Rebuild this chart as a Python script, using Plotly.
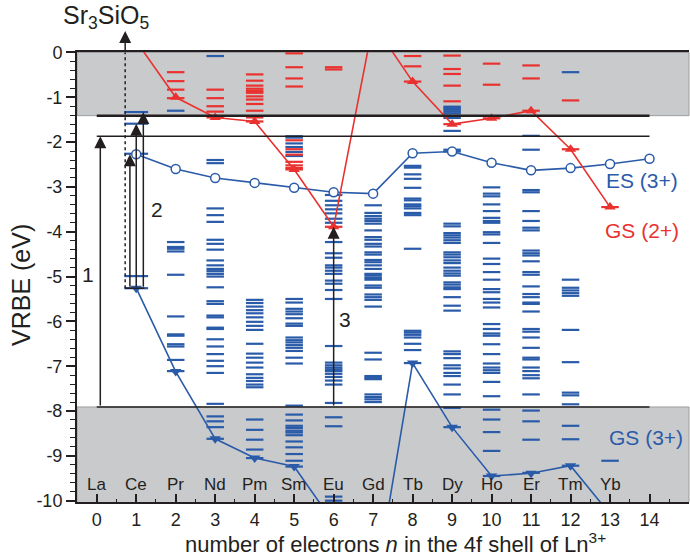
import plotly.graph_objects as go

BLUE = "#2a5ba9"
RED = "#e9322f"
GREY = "#c9cacc"
INK = "#231f20"
FONT = "Arial, Liberation Sans, Helvetica, sans-serif"

# ---------------- data ----------------
ln_n = list(range(14))
ln_names = ["La", "Ce", "Pr", "Nd", "Pm", "Sm", "Eu", "Gd", "Tb", "Dy", "Ho", "Er", "Tm", "Yb"]
x_ticks = list(range(15))
y_ticks = list(range(0, -11, -1))

# band edges / exciton (eV)
E_CB = -1.41
E_EX = -1.87
E_VB = -7.91

# zigzag curves
n_gs2 = list(range(1, 14))
gs2 = [0.25, -1.00, -1.45, -1.54, -2.61, -3.89, 0.65, -0.65, -1.60, -1.47, -1.30, -2.16, -3.45]
n_es3 = list(range(1, 15))
es3 = [-2.27, -2.60, -2.80, -2.91, -3.02, -3.12, -3.15, -2.25, -2.21, -2.46, -2.63, -2.58, -2.49, -2.37]
n_gs3 = list(range(1, 14))
gs3 = [-5.26, -7.12, -8.62, -9.05, -9.24, -10.49, -12.2, -6.93, -8.36, -9.45, -9.39, -9.22, -10.3]

# Ln3+ (blue) level energies
ce3 = [-1.33, -1.59, -2.26, -4.99, -5.26]
pr3 = [-1.30, -4.23, -4.34, -4.38, -4.44, -4.96, -5.89, -6.29, -6.32, -6.51, -6.56, -6.86, -7.11]
nd3 = [-0.08, -2.40, -2.47, -3.48, -3.63, -3.78, -4.18, -4.27, -4.40, -4.64, -4.75, -4.83, -4.88,
       -4.94, -5.00, -5.24, -5.55, -5.61, -5.87, -5.91, -6.14, -6.17, -6.40, -6.56, -6.73, -6.88,
       -7.00, -7.15, -7.84, -8.12, -8.23, -8.36, -8.62]
pm3 = [-5.52, -5.59, -5.67, -5.75, -5.82, -5.91, -6.01, -6.10, -6.19, -6.50, -6.72, -6.81, -6.92,
       -7.03, -7.18, -7.26, -7.33, -7.41, -7.47, -8.19, -8.42, -8.64, -8.86, -9.05]
sm3 = [-1.87, -1.90, -2.03, -2.11, -2.22, -2.31, -5.50, -5.58, -5.72, -5.78, -5.84, -5.93, -6.05,
       -6.10, -6.36, -6.42, -6.47, -6.53, -6.59, -6.66, -6.81, -6.94, -7.88, -8.08, -8.21, -8.33,
       -8.38, -8.44, -8.48, -8.54, -8.68, -8.81, -8.96, -9.11, -9.24]
eu3 = [-3.18, -3.31, -3.41, -3.50, -3.59, -3.71, -3.80, -4.23, -4.48, -4.58, -4.75, -4.80, -4.87,
       -4.94, -5.09, -5.16, -5.30, -5.50, -6.55, -6.92, -6.98, -7.03, -7.07, -7.11, -7.17, -7.24,
       -7.32, -7.41, -7.82, -8.14, -8.34, -9.91, -10.0]
gd3 = [-3.41, -3.58, -3.65, -3.71, -3.76, -3.82, -3.97, -4.12, -4.18, -4.27, -4.33, -4.46, -4.51,
       -4.63, -4.68, -4.75, -4.83, -4.94, -4.98, -5.03, -5.07, -5.20, -5.25, -5.40, -5.46, -5.52,
       -5.67, -6.70, -6.85, -7.22, -7.26, -7.29, -7.63, -7.69, -7.74, -7.80]
tb3 = [-2.53, -2.57, -2.72, -2.82, -3.02, -3.26, -3.30, -3.39, -3.43, -3.48, -3.58, -3.63, -4.38,
       -6.21, -6.25, -6.30, -6.36, -6.50, -6.64, -6.93]
dy3 = [-1.21, -1.24, -1.28, -1.32, -1.36, -1.46, -1.75, -2.17, -2.21, -3.82, -3.88, -4.03, -4.08,
       -4.13, -4.19, -4.25, -4.46, -4.51, -4.57, -4.64, -4.70, -4.80, -4.87, -4.93, -4.98, -5.13,
       -5.18, -5.24, -5.28, -5.46, -5.65, -5.76, -6.67, -6.73, -6.82, -6.98, -7.05, -7.15, -7.22,
       -7.41, -7.63, -7.93, -8.36]
ho3 = [-3.01, -3.15, -3.21, -3.39, -3.54, -3.69, -3.76, -3.80, -4.01, -4.06, -4.25, -4.60, -4.72,
       -4.90, -5.07, -5.28, -5.35, -5.50, -5.58, -5.69, -6.06, -6.17, -6.27, -6.32, -6.51, -6.73,
       -6.94, -7.03, -7.09, -7.15, -7.35, -7.67, -7.97, -8.19, -8.47, -8.89, -9.45]
er3 = [-1.86, -2.17, -3.07, -3.12, -3.54, -3.76, -3.91, -3.97, -4.42, -4.48, -4.53, -4.66, -4.90,
       -4.96, -5.22, -5.39, -5.46, -5.58, -5.61, -5.78, -6.17, -6.23, -6.36, -6.59, -6.81, -6.85,
       -7.03, -7.11, -7.20, -7.27, -7.63, -7.99, -8.23, -8.64, -9.38]
tm3 = [-0.44, -5.07, -5.25, -5.31, -5.37, -5.43, -6.19, -6.91, -7.59, -7.65, -7.85, -8.33, -8.63, -9.22]
yb3 = [-9.11]

# Ln2+ (red) level energies
pr2 = [-0.44, -0.64, -0.83, -1.02]
nd2 = [-0.83, -1.02, -1.20, -1.32, -1.45]
pm2 = [-0.49, -0.63, -0.74, -0.81, -0.86, -0.90, -0.98, -1.05, -1.15, -1.30, -1.45, -1.54]
sm2 = [-0.02, -0.33, -0.58, -0.76, -1.96, -2.16, -2.28, -2.44, -2.52, -2.58, -2.61]
eu2 = [-0.33, -0.38, -3.89]
tb2 = [-0.08, -0.31, -0.65]
dy2 = [-0.07, -0.37, -0.48, -0.74, -1.09, -1.60]
ho2 = [-0.25, -0.72, -1.47]
er2 = [-0.29, -0.58, -1.30]
tm2 = [-1.07, -2.16]
yb2 = [-3.45]

# annotation positions (data units)
SR_X = 0.72
arrow1_x = 0.09
arrow2_x = [0.84, 1.0, 1.18]
arrow2_top = [-2.27, -1.59, -1.33]
arrow3_x = 6.0
ce_gs = -5.26
eu2_gs = -3.89

blue_sets = [(2, pr3), (3, nd3), (4, pm3), (5, sm3), (6, eu3), (7, gd3),
             (8, tb3), (9, dy3), (10, ho3), (11, er3), (12, tm3), (13, yb3)]
red_sets = [(2, pr2), (3, nd2), (4, pm2), (5, sm2), (6, eu2), (8, tb2),
            (9, dy2), (10, ho2), (11, er2), (12, tm2), (13, yb2)]


def flatten(sets):
    xs, ys = [], []
    for n, levels in sets:
        for e in levels:
            xs.append(n)
            ys.append(e)
    return xs, ys


fig = go.Figure()

bx, by = flatten(blue_sets)
rx, ry = flatten(red_sets)


def dash_marker(col, size):
    return dict(symbol="line-ew", size=size, line=dict(color=col, width=2.2))


fig.add_trace(go.Scatter(x=bx, y=by, mode="markers", marker=dash_marker(BLUE, 12.5),
                         hoverinfo="skip", showlegend=False))
fig.add_trace(go.Scatter(x=[1] * len(ce3), y=ce3, mode="markers", marker=dash_marker(BLUE, 17),
                         hoverinfo="skip", showlegend=False))
fig.add_trace(go.Scatter(x=rx, y=ry, mode="markers", marker=dash_marker(RED, 12.5),
                         hoverinfo="skip", showlegend=False))

# curves
fig.add_trace(go.Scatter(x=n_gs3, y=gs3, mode="lines+markers",
                         line=dict(color=BLUE, width=1.6),
                         marker=dict(symbol="triangle-down", size=10, color=BLUE),
                         showlegend=False))
fig.add_trace(go.Scatter(x=n_es3, y=es3, mode="lines+markers",
                         line=dict(color=BLUE, width=1.6),
                         marker=dict(symbol="circle", size=9, color="white",
                                     line=dict(color=BLUE, width=1.5)),
                         showlegend=False))
fig.add_trace(go.Scatter(x=n_gs2, y=gs2, mode="lines+markers",
                         line=dict(color=RED, width=1.6),
                         marker=dict(symbol="triangle-up", size=10, color=RED),
                         showlegend=False))

# dotted Sr3SiO5 guide
fig.add_trace(go.Scatter(x=[SR_X, SR_X], y=[ce_gs, 0], mode="lines",
                         line=dict(color=INK, width=1.5, dash="dot"),
                         hoverinfo="skip", showlegend=False))

shapes = [
    dict(type="rect", xref="paper", yref="y", x0=0, x1=1, y0=E_CB, y1=0,
         fillcolor=GREY, line=dict(color="#9d9d9f", width=1), layer="below"),
    dict(type="rect", xref="paper", yref="y", x0=0, x1=1, y0=-10.2, y1=E_VB,
         fillcolor=GREY, line=dict(color="#9d9d9f", width=1), layer="below"),
    dict(type="line", xref="x", yref="y", x0=0, x1=14, y0=E_CB, y1=E_CB,
         line=dict(color=INK, width=2.5)),
    dict(type="line", xref="x", yref="y", x0=0, x1=14, y0=E_EX, y1=E_EX,
         line=dict(color=INK, width=1.5)),
    dict(type="line", xref="x", yref="y", x0=0, x1=14, y0=E_VB, y1=E_VB,
         line=dict(color=INK, width=1.5)),
    dict(type="line", xref="x", yref="y", x0=SR_X, x1=arrow2_x[-1] + 0.03, y0=ce_gs, y1=ce_gs,
         line=dict(color=INK, width=1.5)),
]

annotations = []


def arrow(x, y0, y1):
    annotations.append(dict(x=x, y=y1, ax=x, ay=y0, xref="x", yref="y", axref="x", ayref="y",
                            text="", showarrow=True, arrowhead=2, arrowsize=1.6,
                            arrowwidth=1.5, arrowcolor=INK, standoff=0, startstandoff=0))


arrow(arrow1_x, E_VB, E_EX)
for ax_, top in zip(arrow2_x, arrow2_top):
    arrow(ax_, ce_gs, top)
arrow(arrow3_x, E_VB, eu2_gs)
arrow(SR_X, 0.0, 0.48)

for n, name in zip(ln_n, ln_names):
    annotations.append(dict(x=n, y=-9.65, xref="x", yref="y", text=name, showarrow=False,
                            font=dict(size=17, color=INK, family=FONT)))

annotations += [
    dict(x=-0.22, y=-4.95, text="1", showarrow=False, font=dict(size=21, color=INK, family=FONT)),
    dict(x=1.53, y=-3.5, text="2", showarrow=False, font=dict(size=21, color=INK, family=FONT)),
    dict(x=6.28, y=-5.95, text="3", showarrow=False, font=dict(size=21, color=INK, family=FONT)),
    dict(x=13.8, y=-2.85, text="ES (3+)", showarrow=False, font=dict(size=21, color=BLUE, family=FONT)),
    dict(x=13.8, y=-3.97, text="GS (2+)", showarrow=False, font=dict(size=21, color=RED, family=FONT)),
    dict(x=13.9, y=-8.6, text="GS (3+)", showarrow=False, font=dict(size=21, color=BLUE, family=FONT)),
    dict(x=0.24, y=1.078, xref="x", yref="paper", yanchor="middle",
         text="Sr<sub>3</sub>SiO<sub>5</sub>", showarrow=False,
         font=dict(size=25, color=INK, family=FONT)),
    dict(x=(395 - 77) / 612, y=-(543 - 502) / 450, xref="paper", yref="paper", yanchor="middle",
         text="number of electrons <i>n</i> in the 4f shell of Ln<sup>3+</sup>",
         showarrow=False, font=dict(size=22, color=INK, family=FONT)),
    dict(x=(21 - 77) / 612, y=(502 - 285) / 450, xref="paper", yref="paper",
         xanchor="center", yanchor="middle", textangle=-90,
         text="VRBE (eV)", showarrow=False, font=dict(size=25, color=INK, family=FONT)),
]

fig.update_layout(
    width=690, height=558,
    margin=dict(l=77, r=1, t=52, b=56),
    paper_bgcolor="white", plot_bgcolor="white",
    font=dict(family=FONT, color=INK, size=18),
    shapes=shapes, annotations=annotations,
    showlegend=False,
    xaxis=dict(range=[-0.5, 15], tickvals=x_ticks, ticktext=[str(v) for v in x_ticks],
               ticks="inside", ticklen=8, tickwidth=1.5, tickcolor=INK,
               minor=dict(tickmode="linear", tick0=0, dtick=0.5, ticks="inside",
                          ticklen=3, tickwidth=1, tickcolor=INK),
               showline=True, linecolor=INK, linewidth=2, mirror=True,
               showgrid=False, zeroline=False, tickfont=dict(size=18)),
    yaxis=dict(range=[-10.03, 0.01], tickvals=y_ticks, ticktext=[str(v) for v in y_ticks],
               ticks="outside", ticklen=9, tickwidth=1.5, tickcolor=INK,
               minor=dict(tickmode="linear", tick0=0, dtick=0.2, ticks="outside",
                          ticklen=5, tickwidth=1.2, tickcolor=INK),
               showline=True, linecolor=INK, linewidth=2,
               showgrid=False, zeroline=False, tickfont=dict(size=18)),
)

fig.write_html("out.html")
